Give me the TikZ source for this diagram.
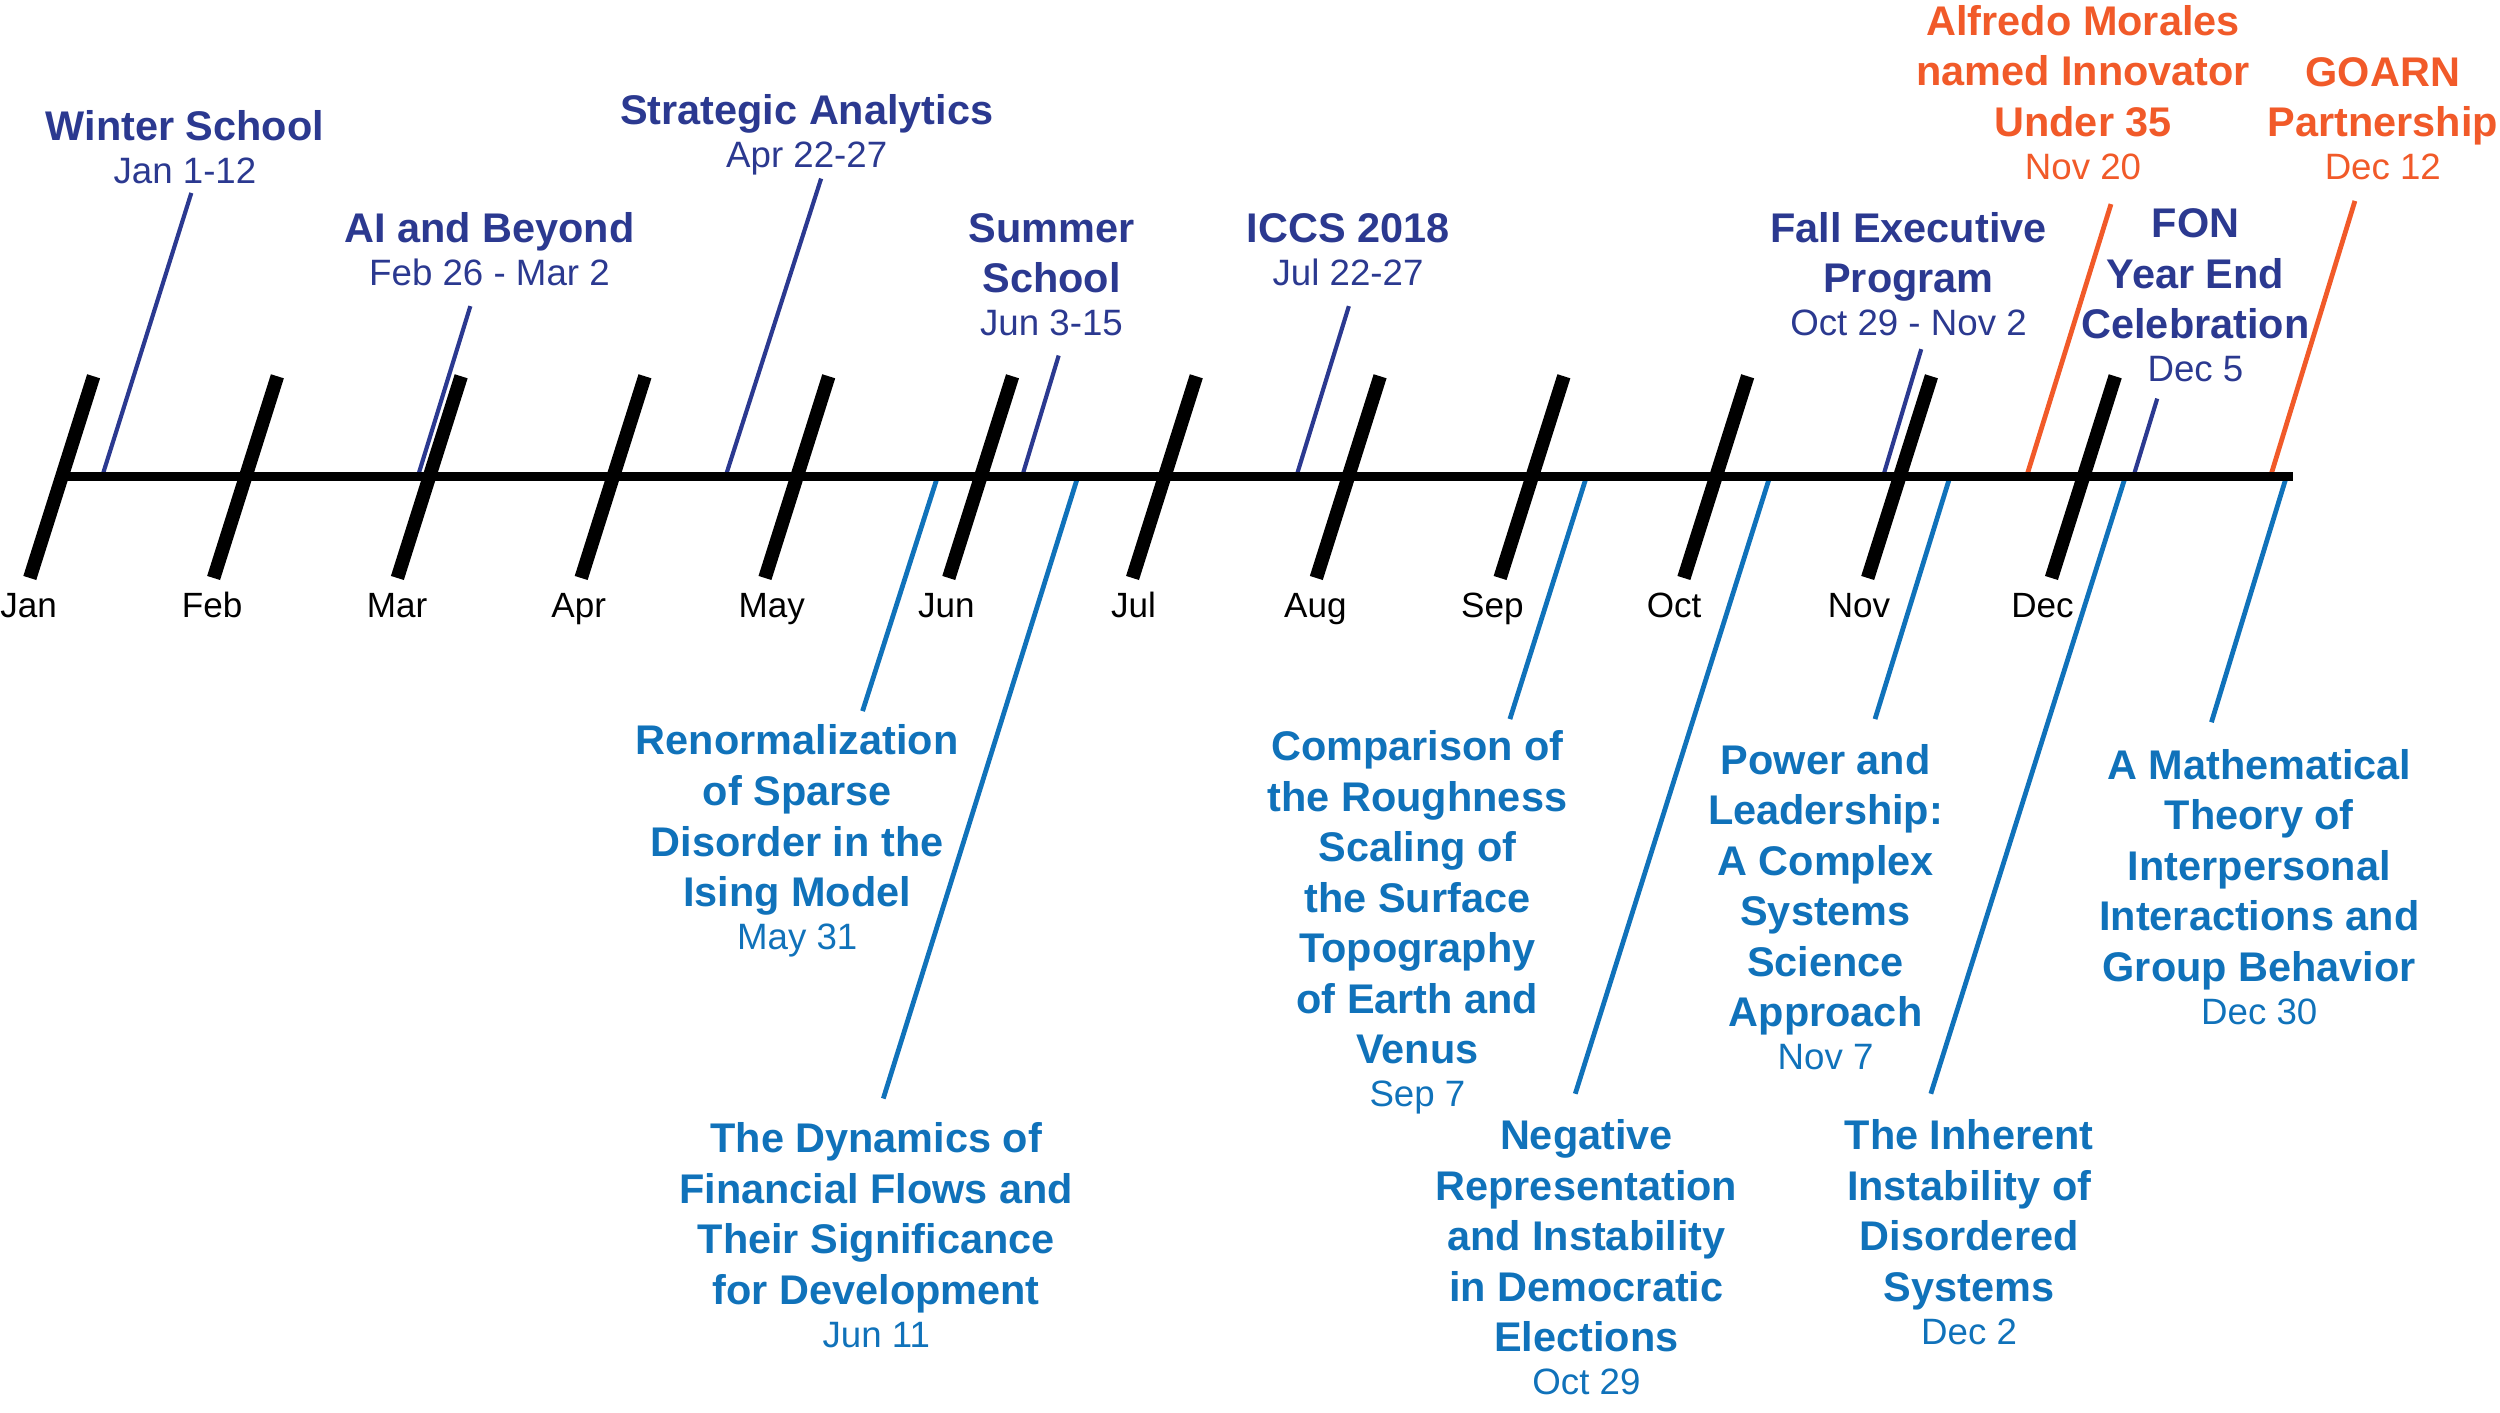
\documentclass[tikz,border=0pt]{standalone}
\usepackage{fontspec}
\setmainfont{Liberation Sans}
\definecolor{navy}{RGB}{43,57,144}
\definecolor{ablue}{RGB}{16,114,186}
\definecolor{aorange}{RGB}{241,90,41}
\newcommand{\ttlfont}{\fontsize{26}{31.7}\selectfont\bfseries}
\newcommand{\dtfont}{\fontsize{23}{27}\selectfont\mdseries}
\newcommand{\evt}[2]{\begin{tabular}[t]{@{}c@{}}#1\\[-4.7pt]\dtfont #2\end{tabular}}
\tikzset{
  evbase/.style={inner sep=0pt, anchor=base, font=\ttlfont},
  evnavy/.style={evbase, text=navy},
  evblue/.style={evbase, text=ablue},
  evorange/.style={evbase, text=aorange},
  monthlabel/.style={inner sep=0pt, anchor=base, font=\fontsize{22}{26}\selectfont, text=black},
  tickmark/.style={line width=8.5pt, black},
  axisline/.style={line width=5.5pt, black},
  connnavy/.style={line width=2.6pt, navy},
  connblue/.style={line width=3pt, ablue},
  connorange/.style={line width=3pt, aorange},
}
\begin{document}
\begin{tikzpicture}[x=1pt, y=-1pt]
\useasboundingbox (0,0) rectangle (1568,886);

% ---------- connector end points ----------
% top events
\coordinate (wsA) at (64,299);   \coordinate (wsB) at (120,121);
\coordinate (aiA) at (262,299);  \coordinate (aiB) at (295,192);
\coordinate (saA) at (455,299);  \coordinate (saB) at (515,112);
\coordinate (ssA) at (641,299);  \coordinate (ssB) at (664,223);
\coordinate (icA) at (813,299);  \coordinate (icB) at (846,192);
\coordinate (feA) at (1181,299); \coordinate (feB) at (1205,219);
\coordinate (amA) at (1271,299); \coordinate (amB) at (1324,128);
\coordinate (fnA) at (1338,299); \coordinate (fnB) at (1353,250);
\coordinate (goA) at (1424,299); \coordinate (goB) at (1477,126);
% bottom events
\coordinate (reA) at (588,299);  \coordinate (reB) at (541,446);
\coordinate (dyA) at (676,299);  \coordinate (dyB) at (554,689);
\coordinate (coA) at (995,299);  \coordinate (coB) at (947,451);
\coordinate (neA) at (1110,299); \coordinate (neB) at (988,686);
\coordinate (poA) at (1223,299); \coordinate (poB) at (1176,451);
\coordinate (inA) at (1333,299); \coordinate (inB) at (1211,686);
\coordinate (maA) at (1434,299); \coordinate (maB) at (1387,453);

% ---------- connectors ----------
\draw[connnavy] (wsA) -- (wsB);
\draw[connnavy] (aiA) -- (aiB);
\draw[connnavy] (saA) -- (saB);
\draw[connnavy] (ssA) -- (ssB);
\draw[connnavy] (icA) -- (icB);
\draw[connnavy] (feA) -- (feB);
\draw[connorange] (amA) -- (amB);
\draw[connnavy] (fnA) -- (fnB);
\draw[connorange] (goA) -- (goB);
\draw[connblue] (reA) -- (reB);
\draw[connblue] (dyA) -- (dyB);
\draw[connblue] (coA) -- (coB);
\draw[connblue] (neA) -- (neB);
\draw[connblue] (poA) -- (poB);
\draw[connblue] (inA) -- (inB);
\draw[connblue] (maA) -- (maB);

% ---------- ticks and axis ----------
\foreach \i in {0,...,11} {
  \pgfmathsetmacro\xb{18.7+115.27*\i}
  \draw[tickmark] (\xb,362.5) -- ++(40,-126.5);
}
\coordinate (axL) at (41,299);
\coordinate (axR) at (1438,299);
\draw[axisline] (axL) -- (axR);

% ---------- month labels ----------
\node[monthlabel] (mJan) at (18,387.5) {Jan};
\node[monthlabel] (mFeb) at (133,387.5) {Feb};
\node[monthlabel] (mMar) at (249,387.5) {Mar};
\node[monthlabel] (mApr) at (363,387.5) {Apr};
\node[monthlabel] (mMay) at (484,387.5) {May};
\node[monthlabel] (mJun) at (593.5,387.5) {Jun};
\node[monthlabel] (mJul) at (711,387.5) {Jul};
\node[monthlabel] (mAug) at (825,387.5) {Aug};
\node[monthlabel] (mSep) at (936,387.5) {Sep};
\node[monthlabel] (mOct) at (1050,387.5) {Oct};
\node[monthlabel] (mNov) at (1166,387.5) {Nov};
\node[monthlabel] (mDec) at (1281,387.5) {Dec};

% ---------- top events ----------
\node[evnavy] (ws) at (116,88) {\evt{Winter School}{Jan 1-12}};
\node[evnavy] (ai) at (307,152) {\evt{AI and Beyond}{Feb 26 - Mar 2}};
\node[evnavy] (sa) at (506,78) {\evt{Strategic Analytics}{Apr 22-27}};
\node[evnavy] (ss) at (659.5,152) {\evt{Summer\\School}{Jun 3-15}};
\node[evnavy] (ic) at (845.5,152) {\evt{ICCS 2018}{Jul 22-27}};
\node[evnavy] (fe) at (1197,152) {\evt{Fall Executive\\Program}{Oct 29 - Nov 2}};
\node[evorange] (am) at (1306.5,22) {\evt{Alfredo Morales\\named Innovator\\Under 35}{Nov 20}};
\node[evnavy] (fn) at (1377,149) {\evt{FON\\Year End\\Celebration}{Dec 5}};
\node[evorange] (go) at (1494.5,54) {\evt{GOARN\\Partnership}{Dec 12}};

% ---------- bottom events ----------
\node[evblue] (re) at (500,473.5) {\evt{Renormalization\\of Sparse\\Disorder in the\\Ising Model}{May 31}};
\node[evblue] (dy) at (549.6,723) {\evt{The Dynamics of\\Financial Flows and\\Their Significance\\for Development}{Jun 11}};
\node[evblue] (co) at (889,477) {\evt{Comparison of\\the Roughness\\Scaling of\\the Surface\\Topography\\of Earth and\\Venus}{Sep 7}};
\node[evblue] (ne) at (995,721) {\evt{Negative\\Representation\\and Instability\\in Democratic\\Elections}{Oct 29}};
\node[evblue] (po) at (1145,485.5) {\evt{Power and\\Leadership:\\A Complex\\Systems\\Science\\Approach}{Nov 7}};
\node[evblue] (in) at (1235,721) {\evt{The Inherent\\Instability of\\Disordered\\Systems}{Dec 2}};
\node[evblue] (ma) at (1417,488.7) {\evt{A Mathematical\\Theory of\\Interpersonal\\Interactions and\\Group Behavior}{Dec 30}};
\end{tikzpicture}
\end{document}
